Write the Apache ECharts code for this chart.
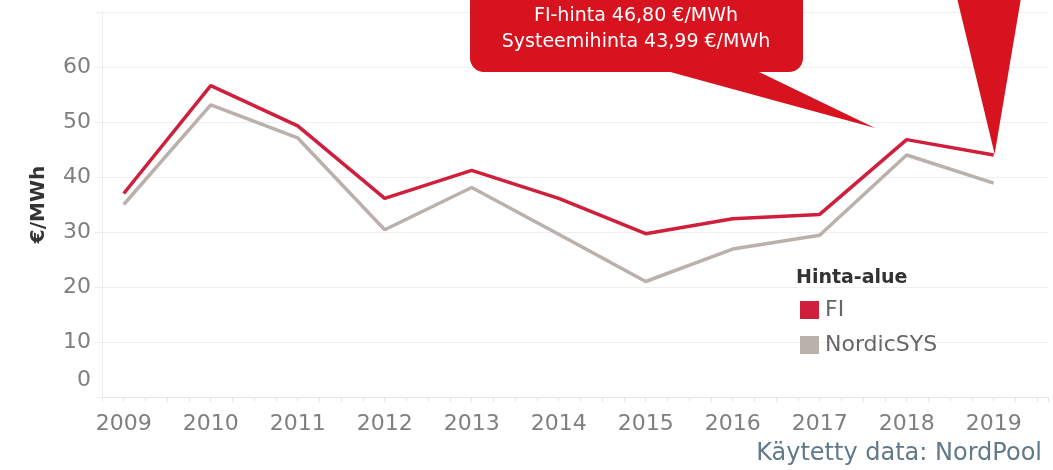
<!DOCTYPE html>
<html lang="fi">
<head>
    <meta charset="UTF-8">
    <script src="https://cdn.jsdelivr.net/npm/echarts@6/dist/echarts.min.js"></script>
    <title>FI-hinta</title>
    <style>
        html, body { margin: 0; padding: 0; background: #fff; }
        #main { width: 1053px; height: 470px; }
    </style>
</head>
<body>
<div id="main"></div>
<script>
    // vuosittaiset keskihinnat, luettu kuvasta
    var years = [2009, 2010, 2011, 2012, 2013, 2014, 2015, 2016, 2017, 2018, 2019]
    var fiPrice = [37.0, 56.6, 49.3, 36.1, 41.2, 36.1, 29.7, 32.4, 33.2, 46.8, 44.0]
    var sysPrice = [35.0, 53.1, 47.1, 30.4, 38.1, 29.6, 21.0, 26.9, 29.4, 44.0, 38.9]
    var yTicks = [0, 10, 20, 30, 40, 50, 60, 70]

    var labelFont = 'DejaVu Sans'
    var fiColor = '#d01f3c'
    var sysColor = '#bab0ac'
    var calloutRed = '#d7131f'

    function pairs(vals) {
        var out = []
        for (var i = 0; i < years.length; i++) {
            out.push([years[i], vals[i]])
        }
        return out
    }

    var myChart = echarts.init(document.getElementById('main'), null, {renderer: 'canvas'})

    var option = {
        animation: false,
        title: [
            {
                text: 'Hinta-alue',
                left: 791,
                top: 264,
                textStyle: {fontFamily: labelFont, fontSize: 19, fontWeight: 'bold', color: '#333'}
            },
            {
                text: 'Käytetty data: NordPool',
                right: 6,
                top: 437,
                textStyle: {fontFamily: labelFont, fontSize: 24, fontWeight: 'normal', color: '#62798a'}
            }
        ],
        legend: {
            orient: 'vertical',
            left: 795,
            top: 294,
            icon: 'rect',
            itemWidth: 19,
            itemHeight: 18,
            itemGap: 13,
            textStyle: {fontFamily: labelFont, fontSize: 22, color: '#666', padding: [0, 0, 0, 1]},
            data: ['FI', 'NordicSYS']
        },
        grid: {left: 102, right: 5, top: 12, bottom: 73},
        xAxis: {
            type: 'value',
            min: 2008.75,
            max: 2019.625,
            interval: 0.25,
            axisLine: {show: true, lineStyle: {color: '#e4e4e4', width: 1}},
            axisTick: {show: true, length: 5, lineStyle: {color: '#e4e4e4'}},
            splitLine: {show: false},
            axisLabel: {
                fontFamily: labelFont,
                fontSize: 22,
                color: '#7f7f7f',
                margin: 16,
                formatter: function (v) {
                    return years.indexOf(v) >= 0 ? String(v) : ''
                }
            }
        },
        yAxis: {
            type: 'value',
            min: yTicks[0],
            max: yTicks[yTicks.length - 1],
            interval: 10,
            name: '€/MWh',
            nameLocation: 'middle',
            nameRotate: 90,
            nameGap: 53,
            nameTextStyle: {fontFamily: labelFont, fontSize: 20, fontWeight: 'bold', color: '#333'},
            axisLine: {show: true, lineStyle: {color: '#ececec'}},
            axisTick: {show: true, length: 7, lineStyle: {color: '#ececec'}},
            splitLine: {show: true, lineStyle: {color: '#efefef'}},
            axisLabel: {
                fontFamily: labelFont,
                fontSize: 22,
                color: '#7f7f7f',
                margin: 11,
                formatter: function (v) {
                    if (v === yTicks[yTicks.length - 1]) return ''
                    if (v === 0) return '{z|0}'
                    return String(v)
                },
                rich: {
                    z: {fontFamily: labelFont, fontSize: 22, color: '#7f7f7f', padding: [0, 0, 34, 0]}
                }
            }
        },
        series: [
            {
                name: 'NordicSYS',
                type: 'line',
                symbol: 'none',
                color: sysColor,
                lineStyle: {width: 3.5, color: sysColor},
                data: pairs(sysPrice)
            },
            {
                name: 'FI',
                type: 'line',
                symbol: 'none',
                color: fiColor,
                lineStyle: {width: 3.5, color: fiColor},
                data: pairs(fiPrice)
            }
        ]
    };

    myChart.setOption(option);

    // puhekupla + nuolet
    var tip2019 = myChart.convertToPixel({seriesIndex: 1}, [years[10], fiPrice[10]])
    myChart.setOption({
        graphic: [
            {
                type: 'polygon',
                shape: {points: [[663, 70], [755, 70], [875, 128]]},
                style: {fill: calloutRed}
            },
            {
                type: 'rect',
                shape: {x: 470, y: -20, width: 333, height: 92, r: 14},
                style: {fill: calloutRed}
            },
            {
                type: 'text',
                x: 636,
                y: 3,
                style: {
                    text: 'FI-hinta 46,80 €/MWh\nSysteemihinta 43,99 €/MWh',
                    fill: '#fff',
                    font: '19px "DejaVu Sans"',
                    lineHeight: 26,
                    align: 'center',
                    verticalAlign: 'top'
                }
            },
            {
                type: 'polygon',
                shape: {points: [[957, -2], [1021, -2], [tip2019[0] + 1, tip2019[1] - 1]]},
                style: {fill: calloutRed}
            }
        ]
    });
</script>
</body>
</html>
